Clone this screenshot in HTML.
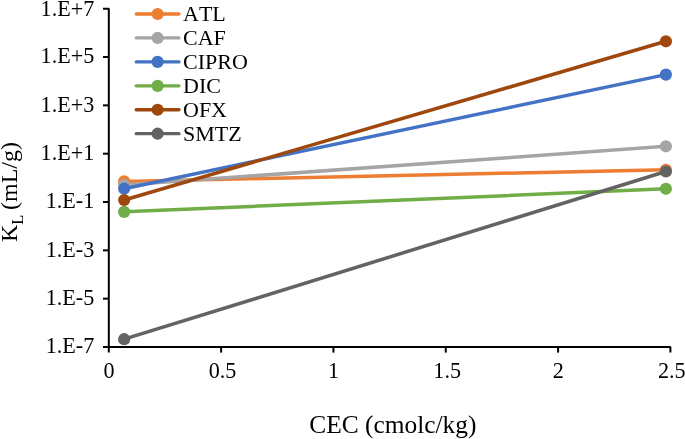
<!DOCTYPE html>
<html><head><meta charset="utf-8"><style>
html,body{margin:0;padding:0;background:#fff;}
body{width:685px;height:439px;overflow:hidden;}
svg{display:block;filter:blur(0.3px);}
text{font-family:"Liberation Serif",serif;fill:#000;font-kerning:none;}
</style></head><body>
<svg width="685" height="439" viewBox="0 0 685 439">
<rect width="685" height="439" fill="#fff"/>

<g stroke="#000" stroke-width="2" fill="none" stroke-linejoin="bevel">
<path d="M103,8.70 H108.8 V352.60"/>
<path d="M103,347.00 H670.40 V352.60"/>
<line x1="103" y1="57.03" x2="108.8" y2="57.03"/>
<line x1="103" y1="105.36" x2="108.8" y2="105.36"/>
<line x1="103" y1="153.68" x2="108.8" y2="153.68"/>
<line x1="103" y1="202.01" x2="108.8" y2="202.01"/>
<line x1="103" y1="250.34" x2="108.8" y2="250.34"/>
<line x1="103" y1="298.67" x2="108.8" y2="298.67"/>
<line x1="221.12" y1="347.00" x2="221.12" y2="352.60"/>
<line x1="333.44" y1="347.00" x2="333.44" y2="352.60"/>
<line x1="445.76" y1="347.00" x2="445.76" y2="352.60"/>
<line x1="558.08" y1="347.00" x2="558.08" y2="352.60"/>
</g>
<text x="94.2" y="15.90" font-size="22.1" text-anchor="end">1.E+7</text>
<text x="94.2" y="63.43" font-size="22.1" text-anchor="end">1.E+5</text>
<text x="94.2" y="111.76" font-size="22.1" text-anchor="end">1.E+3</text>
<text x="94.2" y="160.08" font-size="22.1" text-anchor="end">1.E+1</text>
<text x="94.2" y="208.41" font-size="22.1" text-anchor="end">1.E-1</text>
<text x="94.2" y="256.74" font-size="22.1" text-anchor="end">1.E-3</text>
<text x="94.2" y="305.07" font-size="22.1" text-anchor="end">1.E-5</text>
<text x="94.2" y="353.40" font-size="22.1" text-anchor="end">1.E-7</text>
<text x="109.00" y="378.4" font-size="22.1" text-anchor="middle">0</text>
<text x="222.52" y="378.4" font-size="22.1" text-anchor="middle">0.5</text>
<text x="333.64" y="378.4" font-size="22.1" text-anchor="middle">1</text>
<text x="447.16" y="378.4" font-size="22.1" text-anchor="middle">1.5</text>
<text x="558.28" y="378.4" font-size="22.1" text-anchor="middle">2</text>
<text x="671.80" y="378.4" font-size="22.1" text-anchor="middle">2.5</text>
<line x1="124.15" y1="181.4" x2="665.9" y2="169.8" stroke="#ED7D31" stroke-width="3.5" stroke-linecap="round"/>
<circle cx="124.15" cy="181.4" r="6.1" fill="#ED7D31"/>
<circle cx="665.9" cy="169.8" r="6.1" fill="#ED7D31"/>
<line x1="124.15" y1="185.1" x2="665.9" y2="146.3" stroke="#A5A5A5" stroke-width="3.5" stroke-linecap="round"/>
<circle cx="124.15" cy="185.1" r="6.1" fill="#A5A5A5"/>
<circle cx="665.9" cy="146.3" r="6.1" fill="#A5A5A5"/>
<line x1="124.15" y1="188.7" x2="665.9" y2="74.6" stroke="#4472C4" stroke-width="3.5" stroke-linecap="round"/>
<circle cx="124.15" cy="188.7" r="6.1" fill="#4472C4"/>
<circle cx="665.9" cy="74.6" r="6.1" fill="#4472C4"/>
<line x1="124.15" y1="211.85" x2="665.9" y2="188.8" stroke="#70AD47" stroke-width="3.5" stroke-linecap="round"/>
<circle cx="124.15" cy="211.85" r="6.1" fill="#70AD47"/>
<circle cx="665.9" cy="188.8" r="6.1" fill="#70AD47"/>
<line x1="124.15" y1="200.0" x2="665.9" y2="41.3" stroke="#9E480E" stroke-width="3.5" stroke-linecap="round"/>
<circle cx="124.15" cy="200.0" r="6.1" fill="#9E480E"/>
<circle cx="665.9" cy="41.3" r="6.1" fill="#9E480E"/>
<line x1="124.15" y1="339.2" x2="665.9" y2="171.5" stroke="#636363" stroke-width="3.5" stroke-linecap="round"/>
<circle cx="124.15" cy="339.2" r="6.1" fill="#636363"/>
<circle cx="665.9" cy="171.5" r="6.1" fill="#636363"/>
<line x1="136.2" y1="14.00" x2="179.0" y2="14.00" stroke="#ED7D31" stroke-width="3.3" stroke-linecap="round"/>
<circle cx="157.6" cy="14.00" r="6.1" fill="#ED7D31"/>
<text x="183" y="20.80" font-size="22">ATL</text>
<line x1="136.2" y1="37.94" x2="179.0" y2="37.94" stroke="#A5A5A5" stroke-width="3.3" stroke-linecap="round"/>
<circle cx="157.6" cy="37.94" r="6.1" fill="#A5A5A5"/>
<text x="183" y="44.74" font-size="22">CAF</text>
<line x1="136.2" y1="61.88" x2="179.0" y2="61.88" stroke="#4472C4" stroke-width="3.3" stroke-linecap="round"/>
<circle cx="157.6" cy="61.88" r="6.1" fill="#4472C4"/>
<text x="183" y="68.68" font-size="22">CIPRO</text>
<line x1="136.2" y1="85.82" x2="179.0" y2="85.82" stroke="#70AD47" stroke-width="3.3" stroke-linecap="round"/>
<circle cx="157.6" cy="85.82" r="6.1" fill="#70AD47"/>
<text x="183" y="92.62" font-size="22">DIC</text>
<line x1="136.2" y1="109.76" x2="179.0" y2="109.76" stroke="#9E480E" stroke-width="3.3" stroke-linecap="round"/>
<circle cx="157.6" cy="109.76" r="6.1" fill="#9E480E"/>
<text x="183" y="116.56" font-size="22">OFX</text>
<line x1="136.2" y1="133.70" x2="179.0" y2="133.70" stroke="#636363" stroke-width="3.3" stroke-linecap="round"/>
<circle cx="157.6" cy="133.70" r="6.1" fill="#636363"/>
<text x="183" y="140.50" font-size="22">SMTZ</text>
<text x="392.9" y="432.5" font-size="25.4" text-anchor="middle">CEC (cmolc/kg)</text>
<text transform="translate(17.2,192) rotate(-90)" font-size="24" text-anchor="middle">K<tspan font-size="16.5" dy="5.5">L</tspan><tspan dy="-5.5" dx="-1.4"> (mL/g)</tspan></text>
</svg></body></html>
